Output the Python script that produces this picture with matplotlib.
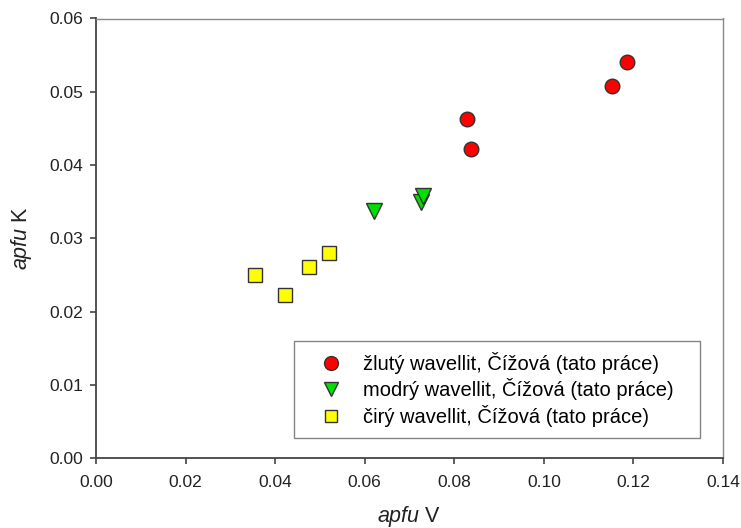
import matplotlib.pyplot as plt

plt.rcParams['font.family'] = ['Liberation Sans', 'DejaVu Sans']
plt.rcParams['mathtext.fontset'] = 'custom'
plt.rcParams['mathtext.rm'] = 'Liberation Sans'
plt.rcParams['mathtext.it'] = 'Liberation Sans:italic'

# apfu V / apfu K
zluty_v = [0.1186, 0.1153, 0.0828, 0.0837]
zluty_k = [0.0541, 0.0508, 0.0463, 0.0422]

modry_v = [0.0621, 0.0726, 0.0731]
modry_k = [0.0337, 0.0349, 0.0357]

ciry_v = [0.0355, 0.0422, 0.0476, 0.0521]
ciry_k = [0.0250, 0.0223, 0.0261, 0.0280]

labels = ["žlutý wavellit, Čížová (tato práce)",
          "modrý wavellit, Čížová (tato práce)",
          "čirý wavellit, Čížová (tato práce)"]

fig = plt.figure(figsize=(7.41, 5.28), dpi=100)
ax = fig.add_axes([96 / 741, 1 - 458 / 528, 627 / 741, 439.5 / 528])

ax.plot(zluty_v, zluty_k, 'o', ms=10.5, mfc='#ff0000', mec='#333333', mew=1.0,
        label=labels[0])
ax.plot(modry_v, modry_k, 'v', ms=11, mfc='#00e000', mec='#333333', mew=1.0,
        label=labels[1])
ax.plot(ciry_v, ciry_k, 's', ms=9.5, mfc='#ffff00', mec='#333333', mew=1.0,
        label=labels[2])

ax.set_xlim(0, 0.14)
ax.set_ylim(0, 0.06)
ax.set_xticks([0.00, 0.02, 0.04, 0.06, 0.08, 0.10, 0.12, 0.14])
ax.set_yticks([0.00, 0.01, 0.02, 0.03, 0.04, 0.05, 0.06])
ax.xaxis.set_major_formatter(plt.FormatStrFormatter('%.2f'))
ax.yaxis.set_major_formatter(plt.FormatStrFormatter('%.2f'))
ax.tick_params(direction='out', length=4.5, width=1.2, color='#444444',
               labelsize=12.5, labelcolor='#222222')
ax.tick_params(axis='x', pad=8)
ax.tick_params(axis='y', pad=5)

for side in ['left', 'bottom']:
    ax.spines[side].set_color('#444444')
    ax.spines[side].set_linewidth(1.3)
for side in ['top', 'right']:
    ax.spines[side].set_color('#888888')
    ax.spines[side].set_linewidth(1.0)

ax.set_xlabel(r'$\it{apfu}$ V', fontsize=15.5, color='#222222', labelpad=10)
ax.set_ylabel(r'$\it{apfu}$ K', fontsize=15.5, color='#222222', labelpad=11)

# legend box stretched over a fixed span of the axes
leg = ax.legend(loc='lower left', bbox_to_anchor=(198 / 627, 20 / 439.5, 406 / 627, 0.1),
                mode='expand', fontsize=14.5, frameon=True, fancybox=False,
                borderpad=0.55, handlelength=2.6, handletextpad=0.3,
                labelspacing=0.22, borderaxespad=0, markerscale=0.95)
leg.get_frame().set_edgecolor('#666666')
leg.get_frame().set_linewidth(1.0)

fig.savefig('out.png', dpi=100)
